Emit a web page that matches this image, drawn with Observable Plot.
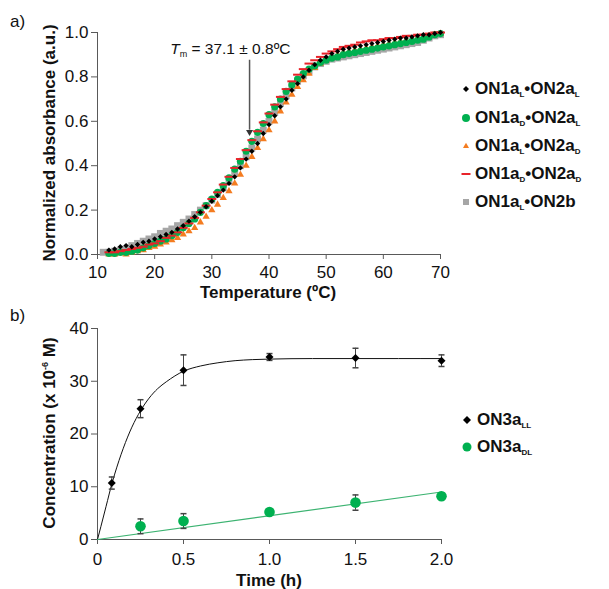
<!DOCTYPE html>
<html><head><meta charset="utf-8">
<script src="https://cdn.jsdelivr.net/npm/d3@7"></script>
<script src="https://cdn.jsdelivr.net/npm/@observablehq/plot@0.6"></script>
<style>
body{margin:0;background:#fff;font-family:"Liberation Sans",Arial,sans-serif;color:#111;}
#wrap{position:relative;width:609px;height:589px;overflow:hidden;}
#wrap svg.plot{position:absolute;left:0;}
.txt{position:absolute;white-space:nowrap;line-height:1;}
.rot{transform:translate(-50%,-50%) rotate(-90deg);font-weight:bold;font-size:17px;}
.hx{transform:translate(-50%,-50%);font-weight:bold;font-size:17px;}
.leg{position:absolute;white-space:nowrap;font-weight:bold;font-size:17px;line-height:1;transform:translateY(-50%);}
.leg sub{font-size:8px;font-weight:bold;vertical-align:-3px;}
.mk{position:absolute;transform:translate(-50%,-50%);}
</style>
</head><body>
<div id="wrap"></div>
<script>
// ---------- Panel a) melting curves ----------
const tempsA = [12,13,14,15,16,17,18,19,20,21,22,23,24,25,26,27,28,29,30,31,32,33,34,35,36,37,38,39,40,41,42,43,44,45,46,47,48,49,50,51,52,53,54,55,56,57,58,59,60,61,62,63,64,65,66,67,68,69,70];
const tempsGray = [11,12,13,14,15,16,17,18,19,20,21,22,23,24,25,26,27,28,29,30,31,32,33,34,35,36,37,38,39,40,41,42,43,44,45,46,47,48,49,50,51,52,53,54,55,56,57,58,59,60,61,62,63,64,65,66,67,68,69,70];
const absLL = [.02,.025,.035,.04,.035,.045,.055,.06,.07,.08,.09,.10,.115,.13,.15,.17,.19,.215,.24,.265,.29,.32,.35,.39,.43,.465,.50,.545,.585,.625,.665,.70,.74,.77,.80,.83,.855,.875,.89,.905,.915,.925,.93,.935,.94,.945,.95,.955,.96,.965,.97,.975,.975,.98,.985,.99,.99,.995,1.0];
const absDL = [.005,.005,.01,.01,.015,.02,.03,.04,.05,.06,.07,.085,.10,.12,.14,.16,.19,.22,.25,.28,.31,.345,.385,.42,.465,.51,.55,.59,.63,.665,.70,.735,.765,.79,.815,.835,.85,.865,.875,.885,.89,.90,.905,.91,.915,.92,.925,.93,.935,.94,.945,.95,.955,.96,.965,.97,.98,.99,.995];
const absLD = [0,0,.005,0,.01,.015,.02,.03,.035,.045,.055,.065,.075,.09,.105,.12,.145,.17,.20,.225,.255,.285,.32,.36,.40,.44,.48,.52,.56,.60,.645,.685,.72,.755,.785,.815,.84,.86,.875,.89,.90,.91,.915,.92,.925,.93,.935,.94,.945,.95,.955,.96,.965,.97,.975,.98,.985,.99,.995];
const absDD = [.01,.01,.015,.02,.025,.03,.035,.045,.05,.06,.075,.085,.10,.12,.14,.165,.19,.22,.25,.28,.315,.35,.39,.43,.47,.515,.555,.595,.635,.675,.71,.745,.78,.81,.835,.86,.875,.89,.905,.915,.925,.935,.94,.945,.955,.96,.965,.965,.97,.975,.975,.98,.985,.985,.99,.99,.995,1.0,1.0];
const abs2b = [.01,.01,.015,.02,.025,.04,.05,.06,.07,.08,.095,.105,.115,.13,.145,.16,.18,.20,.22,.245,.27,.30,.33,.365,.40,.44,.48,.52,.56,.60,.64,.68,.715,.75,.78,.805,.825,.845,.86,.87,.88,.885,.89,.895,.90,.905,.91,.915,.92,.925,.93,.935,.94,.945,.95,.955,.965,.975,.985,.99];
const xTicksA = [10,20,30,40,50,60,70];
const yTicksA = [0,0.2,0.4,0.6,0.8,1.0];
const legendA = ["ON1a_L•ON2a_L","ON1a_D•ON2a_L","ON1a_L•ON2a_D","ON1a_D•ON2a_D","ON1a_L•ON2b"];
const tmLabel = {pre:"T", sub:"m", post:" = 37.1 ± 0.8ºC", tx:22.8, ty:0.9, arrowX:36.6, arrowTop:0.875, arrowTip:0.54};

// ---------- Panel b) kinetics ----------
const timeLL = [0.083,0.25,0.5,1.0,1.5,2.0];
const concLL = [10.7,24.8,32.1,34.6,34.4,33.9];
const errLL  = [1.15,1.7,2.9,0.65,1.85,1.1];
const timeDL = [0.25,0.5,1.0,1.5,2.0];
const concDL = [2.5,3.5,5.2,7.0,8.2];
const errDL  = [1.4,1.4,0.5,1.45,0.6];
const fitTimeLL = [0,0.02,0.05,0.083,0.1,0.15,0.2,0.25,0.3,0.35,0.4,0.5,0.6,0.7,0.8,0.9,1.0,1.25,1.5,1.75,2.0];
const fitConcLL = [0,2.5,6.3,10.5,12.4,17.3,21.3,24.4,26.8,28.6,29.9,31.9,32.9,33.5,33.9,34.1,34.2,34.3,34.3,34.3,34.3];
const fitTimeDL = [0,2.0];
const fitConcDL = [0,9.0];
const xTicksB = [0,0.5,1.0,1.5,2.0];
const yTicksB = [0,10,20,30,40];
const legendB = ["ON3a_LL","ON3a_DL"];

// colours
const C = {black:"#000000", green:"#00b050", orange:"#f47c20", red:"#e8232a", gray:"#a6a6a6", axis:"#595959", fitGreen:"#3cb371"};

const dash = {draw(ctx){ctx.moveTo(-4.5,0);ctx.lineTo(4.5,0);}};
const cap = {draw(ctx){ctx.moveTo(-3,0);ctx.lineTo(3,0);}};

const mk = (ts, vs) => ts.map((t,i)=>({t, v:vs[i]}));
const style = {fontFamily:"'Liberation Sans', Arial, sans-serif", fontSize:"17px", color:"#111", background:"transparent", overflow:"visible"};

const dLL = mk(tempsA, absLL), dDL = mk(tempsA, absDL), dLD = mk(tempsA, absLD), dDD = mk(tempsA, absDD), d2b = mk(tempsGray, abs2b);

const plotA = Plot.plot({
  width:609, height:305, marginLeft:97, marginRight:169, marginTop:32, marginBottom:51,
  x:{domain:[10,70]}, y:{domain:[0,1]}, style,
  marks:[
    Plot.axisX({ticks:xTicksA, tickSize:5, tickPadding:6, label:null, tickFormat:d=>String(d), stroke:C.axis}),
    Plot.axisY({ticks:yTicksA, tickSize:6, tickPadding:3, label:null, tickFormat:d=>d.toFixed(1), stroke:C.axis}),
    Plot.ruleY([0], {stroke:C.axis}),
    Plot.ruleX([10], {stroke:C.axis}),
    Plot.dot(d2b, {x:"t", y:"v", symbol:"square", fill:C.gray, r:3.9}),
    Plot.dot(dLD, {x:"t", y:"v", symbol:"triangle", fill:C.orange, r:2.7}),
    Plot.dot(dDL, {x:"t", y:"v", symbol:"circle", fill:C.green, r:3.6}),
    Plot.dot(dDD, {x:"t", y:"v", symbol:dash, fill:"none", stroke:C.red, strokeWidth:2}),
    Plot.dot(dLL, {x:"t", y:"v", symbol:"diamond2", fill:C.black, r:2.4}),
    Plot.ruleX([tmLabel.arrowX], {y1:tmLabel.arrowTop, y2:tmLabel.arrowTip+0.02, stroke:"#555", strokeWidth:1.5}),
    Plot.dot([tmLabel.arrowX], {x:d=>d, y:()=>tmLabel.arrowTip+0.012, symbol:"triangle", rotate:180, fill:"#333", r:2.6})
  ]
});
plotA.classList.add("plot");
plotA.style.top = "0px";

const plotB = Plot.plot({
  width:609, height:289, marginLeft:97, marginRight:168, marginTop:28, marginBottom:50,
  x:{domain:[0,2]}, y:{domain:[0,40]}, style,
  marks:[
    Plot.axisX({ticks:xTicksB, tickSize:5, tickPadding:8, label:null, tickFormat:d=>d===0?"0":d.toFixed(1), stroke:C.axis}),
    Plot.axisY({ticks:yTicksB, tickSize:6, tickPadding:3, label:null, tickFormat:d=>String(d), stroke:C.axis}),
    Plot.ruleY([0], {stroke:C.axis}),
    Plot.ruleX([0], {stroke:C.axis}),
    Plot.line(mk(fitTimeLL, fitConcLL), {x:"t", y:"v", curve:"monotone-x", stroke:"#111", strokeWidth:1}),
    Plot.line(mk(fitTimeDL, fitConcDL), {x:"t", y:"v", stroke:C.fitGreen, strokeWidth:1.2}),
    Plot.ruleX(timeLL.map((t,i)=>({t, lo:concLL[i]-errLL[i], hi:concLL[i]+errLL[i]})), {x:"t", y1:"lo", y2:"hi", stroke:"#444"}),
    Plot.dot(timeLL.flatMap((t,i)=>[{t,v:concLL[i]-errLL[i]},{t,v:concLL[i]+errLL[i]}]), {x:"t", y:"v", symbol:cap, fill:"none", stroke:"#444"}),
    Plot.ruleX(timeDL.map((t,i)=>({t, lo:concDL[i]-errDL[i], hi:concDL[i]+errDL[i]})), {x:"t", y1:"lo", y2:"hi", stroke:"#444"}),
    Plot.dot(timeDL.flatMap((t,i)=>[{t,v:concDL[i]-errDL[i]},{t,v:concDL[i]+errDL[i]}]), {x:"t", y:"v", symbol:cap, fill:"none", stroke:"#444"}),
    Plot.dot(mk(timeLL, concLL), {x:"t", y:"v", symbol:"diamond2", fill:C.black, r:3.6}),
    Plot.dot(mk(timeDL, concDL), {x:"t", y:"v", symbol:"circle", fill:C.green, r:5.3})
  ]
});
plotB.classList.add("plot");
plotB.style.top = "300px";

const wrap = document.getElementById("wrap");
wrap.appendChild(plotA);
wrap.appendChild(plotB);

// Tm annotation placed through the x/y scales of panel a
{
  const sx = plotA.scale("x"), sy = plotA.scale("y");
  const t = d3.select(plotA).append("text")
    .attr("x", sx.apply(tmLabel.tx)).attr("y", sy.apply(tmLabel.ty))
    .attr("text-anchor", "start")
    .attr("font-size", 15.5).attr("fill", "#111");
  t.append("tspan").attr("font-style","italic").text(tmLabel.pre);
  t.append("tspan").attr("font-size", 9).attr("dy", 3).text(tmLabel.sub);
  t.append("tspan").attr("dy", -3).text(tmLabel.post);
}

function addText(html, cls, x, y, extra){
  const d = document.createElement("div");
  d.className = "txt " + cls;
  d.style.left = x+"px"; d.style.top = y+"px";
  if (extra) d.style.cssText += extra;
  d.innerHTML = html;
  wrap.appendChild(d);
}
const subify = s => s.replace(/_([A-Z]+)/g, "<sub>$1</sub>");

addText("a)", "", 10, 13, "font-size:17px;");
addText("b)", "", 10, 307, "font-size:17px;");
addText("Normalized absorbance (a.u.)", "rot", 49, 143);
addText("Temperature (ºC)", "hx", 268, 292);
addText("Concentration (x 10<sup style='font-size:9px;vertical-align:7px'>-6</sup> M)", "rot", 49, 433);
addText("Time (h)", "hx", 269, 580);

function marker(kind, size, color){
  const s = 14;
  let inner = "";
  const c = s/2;
  if (kind==="diamond") inner = `<path d="M${c},${c-size/2}L${c+size/2},${c}L${c},${c+size/2}L${c-size/2},${c}Z" fill="${color}"/>`;
  if (kind==="circle") inner = `<circle cx="${c}" cy="${c}" r="${size/2}" fill="${color}"/>`;
  if (kind==="triangle") inner = `<path d="M${c},${c-size*0.55}L${c+size/2},${c+size*0.35}L${c-size/2},${c+size*0.35}Z" fill="${color}"/>`;
  if (kind==="dash") inner = `<line x1="${c-size/2}" x2="${c+size/2}" y1="${c}" y2="${c}" stroke="${color}" stroke-width="2"/>`;
  if (kind==="square") inner = `<rect x="${c-size/2}" y="${c-size/2}" width="${size}" height="${size}" fill="${color}"/>`;
  return `<svg width="${s}" height="${s}">${inner}</svg>`;
}
function addLegend(items, x0, textX, ys){
  items.forEach((it,i)=>{
    const m = document.createElement("div");
    m.className = "mk"; m.style.left = x0+"px"; m.style.top = ys[i]+"px";
    m.innerHTML = marker(it.kind, it.size, it.color);
    m.style.lineHeight = "0";
    wrap.appendChild(m);
    const t = document.createElement("div");
    t.className = "leg"; t.style.left = textX+"px"; t.style.top = ys[i]+"px";
    t.innerHTML = subify(it.label);
    wrap.appendChild(t);
  });
}
const legA = [
  {label:legendA[0], kind:"diamond", size:6, color:C.black},
  {label:legendA[1], kind:"circle", size:8, color:C.green},
  {label:legendA[2], kind:"triangle", size:6, color:C.orange},
  {label:legendA[3], kind:"dash", size:9, color:C.red},
  {label:legendA[4], kind:"square", size:6, color:C.gray}
];
addLegend(legA, 466, 475, [89,117.5,146,174,202]);
const legB = [
  {label:legendB[0], kind:"diamond", size:8, color:C.black},
  {label:legendB[1], kind:"circle", size:9, color:C.green}
];
addLegend(legB, 467, 477, [420,447]);
</script>
</body></html>
